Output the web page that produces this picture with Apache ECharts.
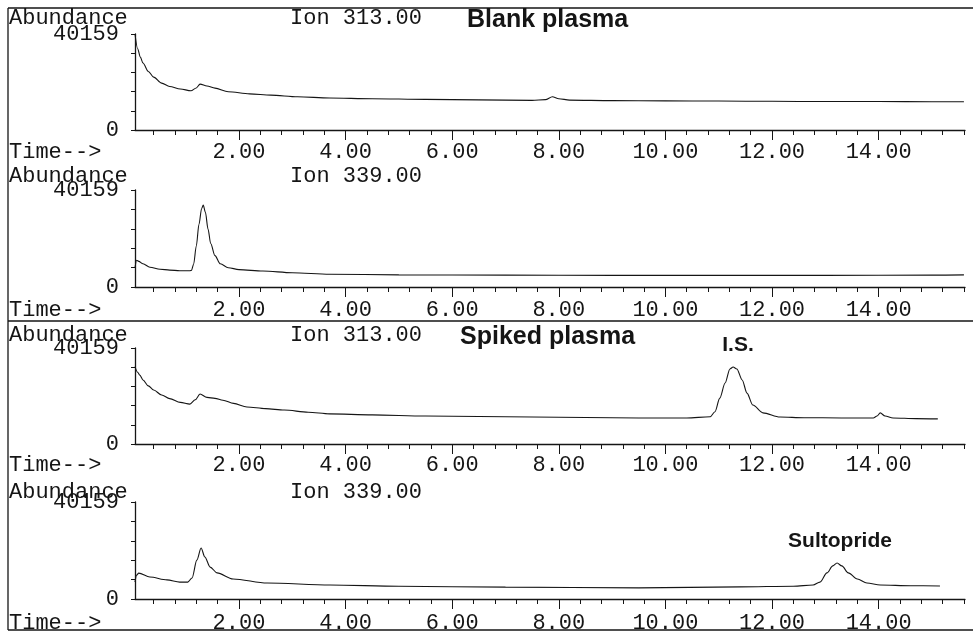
<!DOCTYPE html>
<html>
<head>
<meta charset="utf-8">
<title>Blank / spiked plasma ion chromatograms</title>
<script src="https://cdn.jsdelivr.net/npm/echarts@6.0.0/dist/echarts.min.js"></script>
<style>
  html, body { margin: 0; padding: 0; background: #fff; }
  #chart { width: 973px; height: 635px; }
</style>
</head>
<body>
<div id="chart"></div>
<script>
// retention time (min) / abundance
const blank313Time = [0.05, 0.1, 0.15, 0.2, 0.3, 0.4, 0.55, 0.7, 0.9, 1.1, 1.2, 1.27, 1.4, 1.55, 1.8, 2.2, 2.6, 3.1, 3.7, 4.5, 5.5, 6.5, 7.5, 7.75, 7.88, 8.0, 8.2, 9.0, 10.0, 11.0, 12.0, 13.0, 14.0, 15.0, 15.6];
const blank313Abund = [40159, 34000, 30500, 28000, 24500, 22100, 19600, 18200, 17150, 16400, 17600, 19200, 18400, 17500, 16000, 15100, 14600, 13900, 13400, 13100, 12800, 12600, 12400, 12700, 13900, 13100, 12500, 12300, 12200, 12100, 12000, 11900, 11900, 11800, 11800];

const blank339Time = [0.05, 0.08, 0.12, 0.2, 0.33, 0.52, 0.7, 0.89, 1.08, 1.11, 1.15, 1.2, 1.25, 1.3, 1.33, 1.37, 1.42, 1.47, 1.55, 1.65, 1.8, 2.0, 2.45, 3.0, 3.7, 5.0, 7.0, 9.0, 11.0, 13.0, 15.0, 15.6];
const blank339Abund = [7900, 11100, 10600, 9600, 8200, 7350, 7000, 6750, 6750, 6900, 9500, 17000, 26000, 32500, 33900, 31000, 24000, 18000, 13000, 9600, 8000, 7200, 6600, 5900, 5300, 5000, 4900, 4800, 4800, 4800, 4900, 5000];

const spiked313Time = [0.05, 0.1, 0.14, 0.2, 0.3, 0.4, 0.55, 0.7, 0.9, 1.08, 1.18, 1.27, 1.4, 1.55, 1.7, 1.9, 2.15, 2.5, 2.85, 3.3, 3.7, 4.5, 5.5, 6.5, 7.5, 8.5, 9.5, 10.4, 10.84, 10.93, 11.02, 11.12, 11.21, 11.27, 11.34, 11.44, 11.53, 11.64, 11.83, 12.15, 12.6, 13.3, 13.9, 13.97, 14.03, 14.12, 14.27, 14.7, 15.11];
const spiked313Abund = [32400, 30000, 28800, 26800, 24300, 22600, 20500, 19000, 17400, 16700, 18500, 20900, 19500, 19100, 18300, 17000, 15500, 14800, 14200, 13300, 12600, 12200, 11700, 11500, 11300, 11100, 10900, 10900, 11400, 13500, 19200, 25500, 31400, 32200, 31400, 26800, 21300, 16300, 13000, 11300, 11000, 10900, 10900, 11700, 13000, 11700, 10900, 10600, 10500];

const spiked339Time = [0.05, 0.08, 0.12, 0.33, 0.65, 0.89, 1.04, 1.12, 1.21, 1.29, 1.36, 1.46, 1.59, 1.89, 2.53, 3.71, 5.0, 7.0, 9.5, 11.4, 12.4, 12.77, 12.9, 13.03, 13.14, 13.22, 13.31, 13.43, 13.6, 13.78, 14.03, 14.6, 15.15];
const spiked339Abund = [7000, 9900, 10700, 9100, 7900, 7000, 7000, 8700, 16100, 21100, 17400, 13200, 10800, 8300, 6600, 5800, 5300, 4900, 4600, 5000, 5300, 5800, 7000, 10800, 13700, 14900, 13700, 10800, 8300, 6600, 5800, 5500, 5400];

const xTickLabels = [2, 4, 6, 8, 10, 12, 14];
const yTickLabels = [0, 40159];
const ionNames = ['Ion 313.00', 'Ion 339.00', 'Ion 313.00', 'Ion 339.00'];

const yMax = 40159;
const tMin = 0.05;
const tMax = 15.62;

const ink = '#151515';
const mono = '"Liberation Mono", "Courier New", monospace';
const bold = '"Liberation Sans", Arial, sans-serif';

// layout of the four stacked traces
const panels = [
  { top: 34, height: 96, labelMargin: 11, abundY: 18, timeY: 152, time: blank313Time, abund: blank313Abund },
  { top: 190, height: 97, labelMargin: 12, abundY: 176, timeY: 310, time: blank339Time, abund: blank339Abund },
  { top: 348, height: 96, labelMargin: 10, abundY: 335, timeY: 465, time: spiked313Time, abund: spiked313Abund },
  { top: 502, height: 97, labelMargin: 13, abundY: 492, timeY: 623, time: spiked339Time, abund: spiked339Abund },
];

// small ticks every 0.4 min, big ticks every 2 min
const minorTicks = [];
for (let k = 1; k * 0.4 <= tMax; k++) minorTicks.push(+(k * 0.4).toFixed(1));
const yTicks = [0, 1, 2, 3, 4, 5].map((k) => (yMax * k) / 5);

const chart = echarts.init(document.getElementById('chart'), null, { renderer: 'canvas' });

const grids = [];
const xAxes = [];
const yAxes = [];
const series = [];
const graphics = [];

function txt(text, x, y, opts) {
  return {
    type: 'text',
    x: x,
    y: y,
    silent: true,
    style: Object.assign(
      {
        text: text,
        fill: ink,
        fontFamily: mono,
        fontSize: 22,
        align: 'left',
        verticalAlign: 'middle',
      },
      opts || {}
    ),
  };
}

function line(x1, y1, x2, y2) {
  return {
    type: 'line',
    silent: true,
    shape: { x1: x1, y1: y1, x2: x2, y2: y2 },
    style: { stroke: ink, lineWidth: 1.3 },
  };
}

panels.forEach((p, i) => {
  grids.push({ left: 135, width: 830, top: p.top, height: p.height });

  // axis line + small ticks
  xAxes.push({
    gridIndex: i,
    type: 'value',
    min: tMin,
    max: tMax,
    position: 'bottom',
    axisLine: { show: true, onZero: false, lineStyle: { color: ink, width: 1.3 } },
    axisTick: { show: true, length: 5, customValues: minorTicks, lineStyle: { color: ink, width: 1 } },
    axisLabel: { show: false },
    splitLine: { show: false },
  });
  // big ticks + time labels
  xAxes.push({
    gridIndex: i,
    type: 'value',
    min: tMin,
    max: tMax,
    position: 'bottom',
    axisLine: { show: false, onZero: false },
    axisTick: { show: true, length: 10, customValues: xTickLabels, lineStyle: { color: ink, width: 1 } },
    axisLabel: {
      show: true,
      customValues: xTickLabels,
      formatter: (v) => v.toFixed(2),
      fontFamily: mono,
      fontSize: 22,
      color: ink,
      margin: p.labelMargin,
    },
    splitLine: { show: false },
  });

  yAxes.push({
    gridIndex: i,
    type: 'value',
    min: 0,
    max: yMax,
    axisLine: { show: true, lineStyle: { color: ink, width: 1.3 } },
    axisTick: { show: true, length: 4, customValues: yTicks, lineStyle: { color: ink, width: 1 } },
    axisLabel: {
      show: true,
      customValues: yTickLabels,
      showMinLabel: true,
      showMaxLabel: true,
      formatter: (v) => String(Math.round(v)),
      fontFamily: mono,
      fontSize: 22,
      color: ink,
      margin: 16,
    },
    splitLine: { show: false },
  });

  series.push({
    type: 'line',
    xAxisIndex: i * 2,
    yAxisIndex: i,
    data: p.time.map((t, k) => [t, p.abund[k]]),
    symbol: 'none',
    smooth: 0.3,
    smoothMonotone: 'x',
    lineStyle: { color: ink, width: 1.1 },
    animation: false,
    silent: true,
  });

  graphics.push(txt('Abundance', 9, p.abundY));
  graphics.push(txt(ionNames[i], 290, p.abundY));
  graphics.push(txt('Time-->', 9, p.timeY));
});

// sample titles and peak labels
graphics.push(txt('Blank plasma', 467, 20, { fontFamily: bold, fontWeight: 'bold', fontSize: 25 }));
graphics.push(txt('Spiked plasma', 460, 337, { fontFamily: bold, fontWeight: 'bold', fontSize: 25 }));
graphics.push(txt('I.S.', 738, 345, { fontFamily: bold, fontWeight: 'bold', fontSize: 21, align: 'center' }));
graphics.push(txt('Sultopride', 840, 541, { fontFamily: bold, fontWeight: 'bold', fontSize: 21, align: 'center' }));

// frame round the two figures
graphics.push(line(8, 8, 973, 8));
graphics.push(line(8, 321, 973, 321));
graphics.push(line(8, 630, 973, 630));
graphics.push(line(8, 8, 8, 630));

chart.setOption({
  animation: false,
  backgroundColor: '#fff',
  grid: grids,
  xAxis: xAxes,
  yAxis: yAxes,
  series: series,
  graphic: graphics,
});
</script>
</body>
</html>
